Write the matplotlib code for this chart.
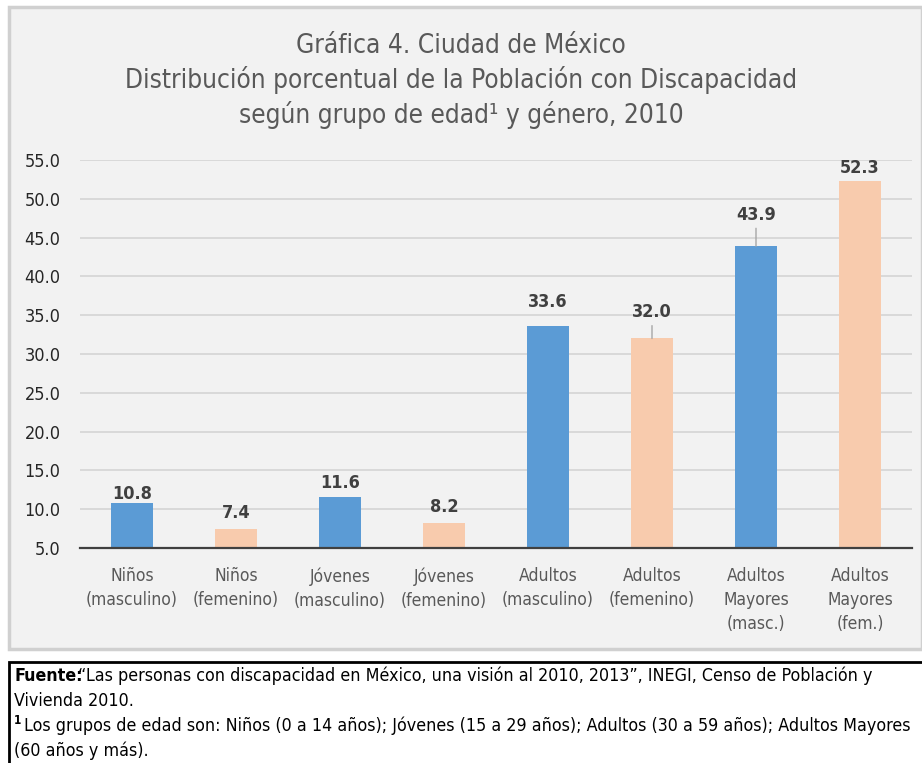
import matplotlib
matplotlib.use("Agg")
import matplotlib.pyplot as plt
from matplotlib.patches import Rectangle

plt.rcParams['font.family'] = ['DejaVu Sans']
plt.rcParams['font.stretch'] = 'condensed'

# datos
categorias = ["Niños\n(masculino)", "Niños\n(femenino)", "Jóvenes\n(masculino)",
              "Jóvenes\n(femenino)", "Adultos\n(masculino)", "Adultos\n(femenino)",
              "Adultos\nMayores\n(masc.)", "Adultos\nMayores\n(fem.)"]
valores = [10.8, 7.4, 11.6, 8.2, 33.6, 32.0, 43.9, 52.3]
yticks = [5, 10, 15, 20, 25, 30, 35, 40, 45, 50, 55]

titulo = ("Gráfica 4. Ciudad de México\n"
          "Distribución porcentual de la Población con Discapacidad\n"
          "según grupo de edad¹ y género, 2010")

# estilo
azul = "#5b9bd5"
durazno = "#f8cbad"
colores = [azul, durazno] * 4
# desplazamiento de etiquetas (pixeles) y si llevan linea guia
desp = [9, 16, 14, 16, 24, 26, 31, 13]
guia = [False, False, False, False, False, True, True, False]

W, H = 922, 763
fig = plt.figure(figsize=(W / 100, H / 100), dpi=100)
fig.patch.set_facecolor("white")

# marco del grafico
fig.add_artist(Rectangle((9 / W, 1 - 649 / H), (W - 9) / W, (649 - 7) / H,
                         transform=fig.transFigure, facecolor="#f2f2f2",
                         edgecolor="#d0d0d0", linewidth=2.5, zorder=-5))

# area de trazado
x0, x1 = 80, 912
ytop, ybot = 160, 548
ax = fig.add_axes([x0 / W, 1 - ybot / H, (x1 - x0) / W, (ybot - ytop) / H])
ax.set_zorder(2)
ax.set_facecolor("none")

xs = list(range(len(valores)))
ax.bar(xs, [v - 5 for v in valores], bottom=5, width=0.4, color=colores, zorder=3)
ax.set_xlim(-0.5, len(valores) - 0.5)
ax.set_ylim(5, 55)
ax.set_yticks(yticks)
ax.set_yticklabels([f"{t:.1f}" for t in yticks], fontsize=13, color="#262626")
ax.set_xticks(xs)
ax.set_xticklabels(categorias, fontsize=12.5, color="#595959", linespacing=1.42)
ax.tick_params(axis="both", length=0)
ax.tick_params(axis="y", pad=14)
ax.tick_params(axis="x", pad=14)
ax.grid(axis="y", color="#d9d9d9", linewidth=1.4, zorder=0)
for s in ["top", "right", "left"]:
    ax.spines[s].set_visible(False)
ax.spines["bottom"].set_color("#404040")
ax.spines["bottom"].set_linewidth(1.6)
ax.spines["bottom"].set_zorder(4)

for x, v, d, g in zip(xs, valores, desp, guia):
    ax.annotate(f"{v:.1f}", xy=(x, v), xytext=(0, d), textcoords="offset pixels",
                ha="center", va="center", fontsize=13, fontweight="bold", color="#404040",
                arrowprops=dict(arrowstyle="-", color="#a6a6a6", lw=1, shrinkA=1, shrinkB=0)
                if g else None, zorder=5)

fig.text(0.5, 1 - 81 / H, titulo, ha="center", va="center", fontsize=18.8,
         color="#595959", linespacing=1.33)

# nota al pie
fig.add_artist(Rectangle((9 / W, -0.01), (W - 9 + 5) / W, (763 - 662) / H + 0.01,
                         transform=fig.transFigure, facecolor="white",
                         edgecolor="black", linewidth=2, zorder=-5))
fx = 14 / W
fs = 12.8
fig.text(fx, 1 - 676 / H, "Fuente:", fontsize=fs, fontweight="bold", va="center")
fig.text(fx + 64 / W, 1 - 676 / H,
         "“Las personas con discapacidad en México, una visión al 2010, 2013”, INEGI, "
         "Censo de Población y", fontsize=fs, va="center")
fig.text(fx, 1 - 701 / H, "Vivienda 2010.", fontsize=fs, va="center")
fig.text(fx, 1 - 720 / H, "1", fontsize=8.5, fontweight="bold", va="center")
fig.text(fx + 10 / W, 1 - 726 / H,
         "Los grupos de edad son: Niños (0 a 14 años); Jóvenes (15 a 29 años); "
         "Adultos (30 a 59 años); Adultos Mayores", fontsize=fs, va="center")
fig.text(fx, 1 - 751 / H, "(60 años y más).", fontsize=fs, va="center")

fig.savefig("out.png", dpi=100)
